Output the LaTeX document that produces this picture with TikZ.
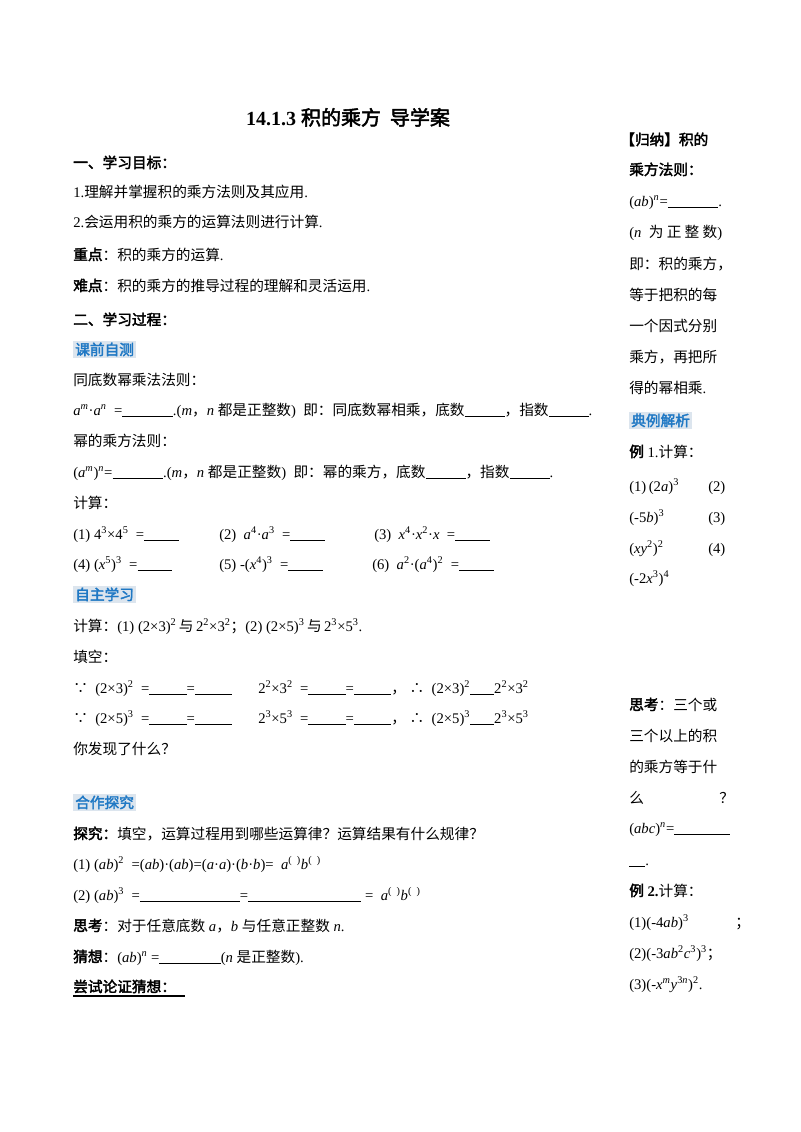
\documentclass[tikz,border=0pt]{standalone}
\usepackage{fontspec}
\setmainfont{Liberation Serif}
\newfontfamily\cjk{Noto Sans CJK SC}[AutoFakeBold=2.5]
\newcommand\z[1]{{\cjk #1}}
\newcommand\zb[1]{{\cjk\bfseries #1}}
\newcommand\su[1]{\textsuperscript{#1}}
\newcommand\bl[1]{\rule[-1.2pt]{#1pt}{0.5pt}}
\newcommand\va[1]{\textit{#1}}
\definecolor{hblue}{HTML}{1F78C4}
\definecolor{hbg}{HTML}{DCE5EE}
\begin{document}
\begin{tikzpicture}[x=0.75pt,y=-0.75pt,
  t/.style={anchor=base west,inner sep=0pt,font=\fontsize{11}{13}\selectfont},
  hd/.style={anchor=base west,inner sep=1.5pt,fill=hbg,text=hblue,font=\fontsize{11}{13}\selectfont\cjk\bfseries}]
\useasboundingbox[fill=white] (0,0) rectangle (800,1132);
\node[anchor=base,inner sep=0pt,font=\fontsize{15}{17}\selectfont\bfseries] (title) at (348,125) {14.1.3 \zb{积的乘方\ \ 导学案}};
\node[t] (l1) at (73,168) {\zb{一、学习目标：}};
\node[t] (l2) at (73,197) {1.\z{理解并掌握积的乘方法则及其应用}.};
\node[t] (l3) at (73,227) {2.\z{会运用积的乘方的运算法则进行计算}.};
\node[t] (l4) at (73,260) {\zb{重点}\z{：积的乘方的运算}.};
\node[t] (l5) at (73,291) {\zb{难点}\z{：积的乘方的推导过程的理解和灵活运用}.};
\node[t] (l6) at (73,325) {\zb{二、学习过程：}};
\node[hd] (h1) at (73,355) {课前自测};
\node[t] (l7) at (73,385) {\z{同底数幂乘法法则：}};
\node[t] (l8) at (73,415) {\va{a}\su{\va{m}}·\va{a}\su{\va{n}} \ =\bl{38}.(\va{m}\z{，}\va{n} \z{都是正整数}) \ \z{即：同底数幂相乘，底数}\bl{30}\z{，指数}\bl{30}.};
\node[t] (l9) at (73,446) {\z{幂的乘方法则：}};
\node[t] (l10) at (73,477) {(\va{a}\su{\va{m}})\su{\va{n}}=\bl{38}.(\va{m}\z{，}\va{n} \z{都是正整数}) \ \z{即：幂的乘方，底数}\bl{30}\z{，指数}\bl{30}.};
\node[t] (l11) at (73,508) {\z{计算：}};
\node[t] (c1) at (73,539) {(1) 4\su{3}×4\su{5} \ =\bl{26}};
\node[t] (c2) at (219,539) {(2) \ \va{a}\su{4}·\va{a}\su{3} \ =\bl{26}};
\node[t] (c3) at (374,539) {(3) \ \va{x}\su{4}·\va{x}\su{2}·\va{x} \ =\bl{26}};
\node[t] (c4) at (73,569) {(4) (\va{x}\su{5})\su{3} \ =\bl{26}};
\node[t] (c5) at (219,569) {(5) -(\va{x}\su{4})\su{3} \ =\bl{26}};
\node[t] (c6) at (372,569) {(6) \ \va{a}\su{2}·(\va{a}\su{4})\su{2} \ =\bl{26}};
\node[hd] (h2) at (73,600) {自主学习};
\node[t] (l12) at (73,631) {\z{计算：}(1) (2×3)\su{2}\,\z{与}\,2\su{2}×3\su{2}\z{；}(2) (2×5)\su{3}\,\z{与}\,2\su{3}×5\su{3}.};
\node[t] (l13) at (73,662) {\z{填空：}};
\node[t] (f1a) at (73,693) {\z{∵}\ \ (2×3)\su{2} \ =\bl{28}=\bl{28}};
\node[t] (f1b) at (258,693) {2\su{2}×3\su{2} \ =\bl{28}=\bl{28}\z{，}\ \z{∴}\ \ (2×3)\su{2}\bl{18}2\su{2}×3\su{2}};
\node[t] (f2a) at (73,723) {\z{∵}\ \ (2×5)\su{3} \ =\bl{28}=\bl{28}};
\node[t] (f2b) at (258,723) {2\su{3}×5\su{3} \ =\bl{28}=\bl{28}\z{，}\ \z{∴}\ \ (2×5)\su{3}\bl{18}2\su{3}×5\su{3}};
\node[t] (l14) at (73,754) {\z{你发现了什么？}};
\node[hd] (h3) at (73,808) {合作探究};
\node[t] (l15) at (73,839) {\zb{探究：}\z{填空，运算过程用到哪些运算律？运算结果有什么规律？}};
\node[t] (l16) at (73,869) {(1) (\va{ab})\su{2} \ =(\va{ab})·(\va{ab})=(\va{a}·\va{a})·(\va{b}·\va{b})= \ \va{a}\su{(\ \ )}\va{b}\su{(\ \ )}};
\node[t] (l17) at (73,900) {(2) (\va{ab})\su{3} \ =\bl{75}=\bl{85} = \ \va{a}\su{(\ \ )}\va{b}\su{(\ \ )}};
\node[t] (l18) at (73,931) {\zb{思考}\z{：对于任意底数} \va{a}\z{，}\va{b} \z{与任意正整数} \va{n}.};
\node[t] (l19) at (73,962) {\zb{猜想}\z{：}(\va{ab})\su{\va{n}} =\bl{46}(\va{n} \z{是正整数}).};
\node[t] (l20) at (73,992) {\zb{尝试论证猜想：}};
\draw[line width=0.8pt] (73,996) -- (185,996);
% right column
\node[t] (r1) at (620,145) {\zb{【归纳】积的}};
\node[t] (r2) at (629,175) {\zb{乘方法则：}};
\node[t] (r3) at (629,206) {(\va{ab})\su{\va{n}}=\bl{38}.};
\node[t] (r4) at (629,237) {(\va{n}\ \ \z{为\ 正\ 整\ 数})};
\node[t] (r5) at (629,269) {\z{即：积的乘方，}};
\node[t] (r6) at (629,300) {\z{等于把积的每}};
\node[t] (r7) at (629,331) {\z{一个因式分别}};
\node[t] (r8) at (629,362) {\z{乘方，再把所}};
\node[t] (r9) at (629,393) {\z{得的幂相乘}.};
\node[hd] (h4) at (629,426) {典例解析};
\node[t] (r10) at (629,457) {\zb{例} 1.\z{计算：}};
\node[t] (r11) at (629,491) {(1)\,(2\va{a})\su{3}};
\node[t] (r11b) at (708,491) {(2)};
\node[t] (r12) at (629,522) {(-5\va{b})\su{3}};
\node[t] (r12b) at (708,522) {(3)};
\node[t] (r13) at (629,553) {(\va{xy}\su{2})\su{2}};
\node[t] (r13b) at (708,553) {(4)};
\node[t] (r14) at (629,583) {(-2\va{x}\su{3})\su{4}};
\node[t] (r15) at (629,710) {\zb{思考}\z{：三个或}};
\node[t] (r16) at (629,741) {\z{三个以上的积}};
\node[t] (r17) at (629,772) {\z{的乘方等于什}};
\node[t] (r18) at (629,803) {\z{么}};
\node[t] (r18b) at (719,803) {\z{？}};
\node[t] (r19) at (629,833) {(\va{abc})\su{\va{n}}=\bl{42}};
\node[t] (r20) at (629,865) {\bl{12}.};
\node[t] (r21) at (629,896) {\zb{例} \textbf{2.}\z{计算：}};
\node[t] (r22) at (629,927) {(1)(-4\va{ab})\su{3}};
\node[t] (r22b) at (735,927) {\z{；}};
\node[t] (r23) at (629,958) {(2)(-3\va{ab}\su{2}\va{c}\su{3})\su{3}\z{；}};
\node[t] (r24) at (629,989) {(3)(-\va{x}\su{\va{m}}\va{y}\su{3\va{n}})\su{2}.};
\end{tikzpicture}
\end{document}
